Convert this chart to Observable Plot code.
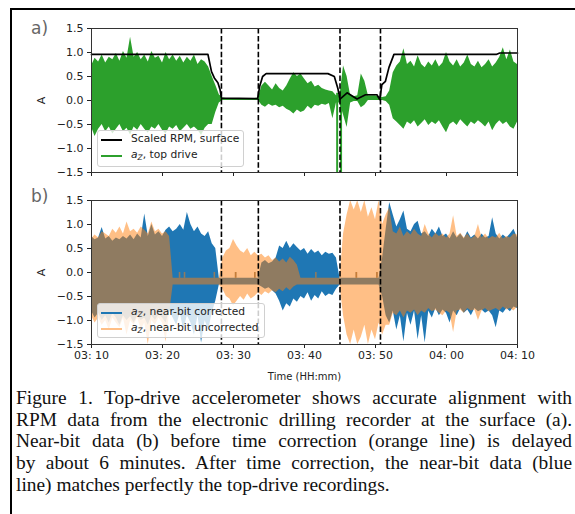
<!DOCTYPE html>
<html>
<head>
<meta charset="utf-8">
<script src="https://cdn.jsdelivr.net/npm/d3@7"></script>
<script src="https://cdn.jsdelivr.net/npm/@observablehq/plot@0.6"></script>
<style>
  html, body { margin: 0; padding: 0; background: #fff; overflow: hidden; }
  #fig { position: relative; width: 575px; height: 514px; overflow: hidden; background: #fff; }
  .abs { position: absolute; }
  .panel { position: absolute; left: 0; }
  .tag { position: absolute; font-family: "DejaVu Sans", sans-serif; font-size: 17px; color: #666; line-height: 1; }
  .leg { position: absolute; background: rgba(255,255,255,0.8); border: 1px solid #d0d0d0; border-radius: 3px; box-sizing: border-box; }
  .row { position: absolute; left: 0; width: 100%; height: 0; }
  .sw { position: absolute; left: 3px; width: 21px; height: 2px; top: -1px; }
  .lt { position: absolute; left: 33px; top: 0; transform: translateY(-52%); white-space: nowrap;
        font-family: "DejaVu Sans", sans-serif; font-size: 10.7px; color: #222; line-height: 1; }
  .lt sub { font-size: 7.5px; vertical-align: -2px; }
  #cap { position: absolute; left: 16px; top: 387px; width: 556px;
         font-family: "Liberation Serif", "Times New Roman", serif; font-size: 19.4px; line-height: 21.7px; color: #111; }
  #cap .j { text-align: justify; text-align-last: justify; }
</style>
</head>
<body>
<div id="fig">
  <div class="abs" style="left:10px; top:8px; right:0; height:2px; background:#000;"></div>
  <div class="abs" style="left:10px; top:8px; bottom:0; width:2px; background:#000;"></div>
  <div id="pa" class="panel" style="top:0;"></div>
  <div id="pb" class="panel" style="top:180px;"></div>
  <div class="tag" style="left:31px; top:20px;">a)</div>
  <div class="tag" style="left:31px; top:188px;">b)</div>

  <div class="leg" style="left:97px; top:130px; width:147px; height:37px;">
    <div class="row" style="top:9px;"><span class="sw" style="background:#000;"></span><span class="lt">Scaled RPM, surface</span></div>
    <div class="row" style="top:25px;"><span class="sw" style="background:#2ca02c;"></span><span class="lt"><i>a</i><sub><i>Z</i></sub>, top drive</span></div>
  </div>
  <div class="leg" style="left:97px; top:303px; width:168px; height:35px;">
    <div class="row" style="top:9px;"><span class="sw" style="background:#1f77b4;"></span><span class="lt"><i>a</i><sub><i>Z</i></sub>, near-bit corrected</span></div>
    <div class="row" style="top:25px;"><span class="sw" style="background:#ffbf86;"></span><span class="lt"><i>a</i><sub><i>Z</i></sub>, near-bit uncorrected</span></div>
  </div>

  <div id="cap">
    <div class="j">Figure 1. Top-drive accelerometer shows accurate alignment with</div>
    <div class="j">RPM data from the electronic drilling recorder at the surface (a).</div>
    <div class="j">Near-bit data (b) before time correction (orange line) is delayed</div>
    <div class="j">by about 6 minutes. After time correction, the near-bit data (blue</div>
    <div>line) matches perfectly the top-drive recordings.</div>
  </div>
</div>
<script>
// ---------- data (minutes after 03:10, sampled every 0.5 min: 121 samples) ----------
const xTickMinutes = [0, 10, 20, 30, 40, 50, 60];
const yTicks = [-1.5, -1.0, -0.5, 0.0, 0.5, 1.0, 1.5];
const markerMinutes = [18.3, 23.5, 35.0, 40.7];   // dashed vertical lines

// panel a: top-drive a_Z envelope (upper / lower)
const greenHi = [
  0.72, 0.88, 0.80, 0.95, 0.78, 0.90, 0.85, 0.98, 0.82, 1.02,
  0.88, 1.32, 0.90, 1.00, 0.85, 0.95, 0.80, 1.02, 0.88, 0.92,
  0.78, 1.00, 0.85, 0.95, 0.82, 0.92, 0.78, 0.90, 0.82, 0.95,
  0.75, 0.85, 0.80, 0.70,
  0.50, 0.32, 0.12, 0.05,
  0.04, 0.04, 0.04, 0.04, 0.04, 0.04, 0.04, 0.04, 0.04, 0.05,
  0.30, 0.38, 0.30, 0.22, 0.35, 0.25, 0.20, 0.30, 0.45, 0.58,
  0.50, 0.55, 0.45, 0.35, 0.40, 0.28, 0.32, 0.25, 0.22, 0.20, 0.18,
  0.10, 0.10, 0.72, 0.50, 0.10, 0.08, 0.10, 0.55, 0.40, 0.10,
  0.10, 0.10, 0.08, 0.06, 0.08, 0.20,
  0.58, 0.72, 0.80, 1.08, 0.75, 0.82, 0.70, 0.93, 0.75, 0.68,
  0.80, 0.72, 0.85, 0.70, 0.78, 1.00, 0.80, 0.72, 0.85, 0.70,
  0.78, 0.95, 0.75, 0.70, 0.82, 0.68, 0.75, 0.85, 0.70, 0.78,
  0.90, 1.10, 0.85, 1.05, 0.80, 0.75
];
const greenLo = [
  -0.55, -0.75, -0.60, -0.50, -0.65, -0.55, -0.70, -0.60, -0.50, -0.65,
  -0.58, -0.72, -0.55, -0.62, -0.50, -0.60, -0.68, -0.55, -0.60, -0.50,
  -0.62, -0.70, -0.55, -0.60, -0.52, -0.65, -0.58, -0.50, -0.60, -0.55,
  -0.62, -0.73, -0.58, -0.50,
  -0.50, -0.25, -0.05, 0.00,
  0.00, 0.00, 0.00, 0.00, 0.00, 0.00, 0.00, 0.00, 0.00, 0.00,
  -0.10, -0.14, -0.08, -0.12, -0.10, -0.15, -0.12, -0.18, -0.22, -0.28,
  -0.20, -0.25, -0.22, -0.12, -0.18, -0.10, -0.12, -0.08, -0.10, -0.06, -0.38,
  -0.05, -0.05, -0.30, -0.56, -0.05, -0.02, -0.02, -0.15, -0.10, 0.00,
  0.00, 0.00, 0.00, 0.00, -0.02, -0.10,
  -0.38, -0.45, -0.52, -0.60, -0.45, -0.50, -0.42, -0.55, -0.48, -0.40,
  -0.52, -0.45, -0.50, -0.42, -0.55, -0.67, -0.50, -0.45, -0.52, -0.40,
  -0.48, -0.55, -0.45, -0.50, -0.42, -0.48, -0.55, -0.45, -0.63, -0.50,
  -0.42, -0.50, -0.45, -0.55, -0.60, -0.45
];
// isolated green spikes
const spikeMinutes = [34.6, 35.15];
const spikeLo = [-1.5, -1.5];
const spikeHi = [0.15, 0.05];

// scaled surface RPM
const rpmMinutes = [0, 16.4, 16.9, 17.3, 17.8, 18.1, 18.3, 23.4, 23.7, 24.1, 24.6, 33.3, 34.2, 34.7, 35.0, 36.0, 37.4, 38.6, 40.2, 40.6, 40.9, 41.4, 41.9, 42.6, 57.0, 57.5, 60];
const rpmValues  = [0.96, 0.96, 0.60, 0.47, 0.37, 0.23, 0.05, 0.04, 0.30, 0.50, 0.56, 0.56, 0.50, 0.25, 0.03, 0.16, 0.03, 0.12, 0.12, 0.02, 0.33, 0.40, 0.69, 0.96, 0.96, 0.99, 0.99];

// panel b: near-bit corrected (blue) envelope
const blueHi = [
  0.75, 0.68, 0.72, 0.94, 0.70, 0.75, 0.65, 0.72, 0.68, 0.75,
  0.70, 0.78, 0.68, 0.80, 0.72, 1.22, 0.75, 1.00, 0.78, 0.85,
  0.75, 0.88, 0.95, 0.85, 0.90, 1.00, 0.88, 1.25, 1.00, 0.85,
  0.95, 0.80, 0.75, 0.85, 0.60, 0.50,
  -0.12, -0.12, -0.12, -0.12, -0.12, -0.12, -0.12, -0.12, -0.12, -0.12, -0.12, -0.12,
  0.20, 0.25, 0.18, 0.22, 0.30, 0.55, 0.50, 0.65, 0.50, 0.60,
  0.52, 0.45, 0.50, 0.38, 0.48, 0.40, 0.45, 0.35, 0.42, 0.38, 0.40, 0.30,
  -0.12, -0.12, -0.12, -0.12, -0.12, -0.12, -0.12, -0.12, -0.12, -0.12, -0.12, -0.12,
  0.30, 0.90,
  1.46, 1.20, 0.95, 1.10, 1.28, 0.90, 0.85, 1.00, 1.07, 0.80,
  0.85, 0.75, 0.90, 0.80, 0.95, 0.75, 0.80, 0.70, 0.85, 0.72,
  0.80, 0.70, 0.85, 0.72, 0.78, 0.70, 0.80, 0.72, 0.75, 1.14,
  0.80, 0.70, 0.78, 0.72, 0.80, 0.90, 0.72
];
const blueLo = [
  -0.80, -0.95, -0.85, -1.00, -0.90, -1.05, -0.85, -0.95, -1.10, -0.90,
  -1.00, -0.92, -1.05, -0.90, -1.00, -0.95, -1.10, -0.90, -1.00, -0.88,
  -0.95, -1.05, -0.80, -0.95, -1.10, -0.85, -1.20, -0.90, -1.05, -1.30,
  -0.90, -1.47, -1.00, -1.20, -0.85, -0.60,
  -0.26, -0.26, -0.26, -0.26, -0.26, -0.26, -0.26, -0.26, -0.26, -0.26, -0.26, -0.26,
  -0.30, -0.35, -0.32, -0.38, -0.45, -0.60, -0.80, -0.65, -0.72, -0.55,
  -0.62, -0.50, -0.55, -0.42, -0.60, -0.48, -0.55, -0.40, -0.50, -0.45, -0.48, -0.35,
  -0.26, -0.26, -0.26, -0.26, -0.26, -0.26, -0.26, -0.26, -0.26, -0.26, -0.26, -0.26,
  -0.50, -0.90,
  -1.05, -0.80, -1.20, -0.90, -1.45, -0.85, -1.10, -0.80, -1.40, -0.90,
  -1.47, -0.80, -0.95, -0.75, -0.90, -0.78, -0.85, -1.05, -0.80, -0.90,
  -0.75, -0.85, -0.78, -0.90, -0.75, -0.82, -0.78, -0.85, -0.80, -0.90,
  -1.15, -0.80, -0.85, -0.75, -0.82, -0.72, -0.75
];
// panel b: near-bit uncorrected (orange) envelope
const orangeHi = [
  0.70, 0.78, 0.72, 0.85, 0.80, 0.75, 0.90, 0.82, 0.95, 0.80,
  1.05, 0.85, 0.90, 0.82, 0.95, 0.88, 0.80, 1.05, 0.85, 0.90,
  0.80, 0.85, 0.75,
  -0.12, -0.12, -0.12, -0.12, -0.12, -0.12, -0.12, -0.12, -0.12, -0.12, -0.12, -0.12, -0.12, -0.12,
  0.30, 0.45, 0.50, 0.69, 0.55, 0.45, 0.40, 0.50, 0.35, 0.42,
  0.35, 0.38, 0.30, 0.35, 0.25, 0.30, 0.22, 0.28, 0.20, 0.32,
  0.25, 0.15,
  -0.12, -0.12, -0.12, -0.12, -0.12, -0.12, -0.12, -0.12, -0.12, -0.12, -0.12, -0.12,
  0.80, 1.20, 1.50, 1.30, 1.50, 1.25, 1.50, 1.15, 1.35, 1.10, 1.50, 1.00, 1.20,
  1.35, 0.85, 0.80, 0.95, 0.75, 0.85, 0.78, 0.90, 0.80, 0.75,
  1.00, 0.80, 0.72, 0.82, 0.75, 0.80, 0.72, 0.80, 1.18, 0.75,
  0.82, 0.72, 0.80, 0.70, 0.75, 1.00, 0.72, 0.80, 0.70, 0.75,
  0.72, 0.82, 0.70, 0.75, 0.72, 0.80, 0.78
];
const orangeLo = [
  -0.90, -1.05, -0.95, -1.10, -1.00, -1.20, -0.95, -1.05, -1.15, -0.95,
  -1.30, -1.00, -1.10, -0.95, -1.20, -1.05, -1.50, -1.00, -1.10, -0.95,
  -1.05, -1.45, -0.85,
  -0.26, -0.26, -0.26, -0.26, -0.26, -0.26, -0.26, -0.26, -0.26, -0.26, -0.26, -0.26, -0.26, -0.26,
  -0.35, -0.50, -0.55, -0.70, -0.60, -0.50, -0.58, -0.45, -0.55, -0.50,
  -0.42, -0.48, -0.40, -0.45, -0.38, -0.42, -0.35, -0.40, -0.32, -0.38,
  -0.30, -0.26,
  -0.26, -0.26, -0.26, -0.26, -0.26, -0.26, -0.26, -0.26, -0.26, -0.26, -0.26, -0.26,
  -0.90, -1.30, -1.50, -1.20, -1.50, -1.35, -1.10, -1.50, -1.20, -1.40, -1.05, -1.30, -1.10,
  -1.10, -0.85, -0.90, -0.80, -0.95, -0.80, -0.85, -0.78, -0.90, -0.80,
  -0.85, -0.75, -0.82, -0.78, -0.85, -0.90, -0.80, -0.85, -1.25, -0.80,
  -0.78, -0.85, -0.75, -0.80, -0.78, -1.00, -0.80, -0.75, -0.82, -0.78,
  -0.75, -0.80, -0.72, -0.78, -0.75, -0.80, -0.72
];
// small steps on the quiet near-bit trace
const bumpMinutes = [12.4, 13.1, 17.3, 20.3, 23.0, 31.6, 37.3, 40.2];
const bumpLo = -0.12, bumpHi = 0.0;

// ---------- build ----------
const base = Date.UTC(2021, 0, 1, 3, 10);
const toDate = m => new Date(base + m * 60000);
const sampleMinutes = d3.range(121).map(i => i * 0.5);

const green = sampleMinutes.map((m, i) => ({time: toDate(m), lo: greenLo[i], hi: greenHi[i]}));
const blue = sampleMinutes.map((m, i) => ({time: toDate(m), lo: blueLo[i], hi: blueHi[i]}));
const orange = sampleMinutes.map((m, i) => ({time: toDate(m), lo: orangeLo[i], hi: orangeHi[i]}));
const spikes = spikeMinutes.map((m, i) => ({time: toDate(m), lo: spikeLo[i], hi: spikeHi[i]}));
const rpm = rpmMinutes.map((m, i) => ({time: toDate(m), v: rpmValues[i]}));
const bumps = bumpMinutes.map(m => ({time: toDate(m), lo: bumpLo, hi: bumpHi}));
const markers = markerMinutes.map(toDate);

const yFmt = d => d.toFixed(1).replace("-", "\u2212");
const common = {
  width: 575, marginLeft: 91, marginRight: 58,
  style: {fontFamily: "DejaVu Sans, sans-serif", fontSize: "11px", color: "#222", background: "transparent", overflow: "visible"},
  y: {domain: [-1.5, 1.5], ticks: yTicks, tickFormat: yFmt, tickSize: 4, tickPadding: 4,
      label: "A", labelAnchor: "center", labelOffset: 54, labelArrow: false}
};
const dash = {stroke: "#000", strokeWidth: 1.6, strokeDasharray: "5.5,2.4"};

const pa = Plot.plot({
  ...common, height: 180, marginTop: 28, marginBottom: 8,
  x: {type: "utc", domain: [toDate(0), toDate(60)], ticks: xTickMinutes.map(toDate), tickFormat: () => "", tickSize: 4, label: null},
  marks: [
    Plot.areaY(green, {x: "time", y1: "lo", y2: "hi", fill: "#2ca02c", clip: true}),
    Plot.ruleX(spikes, {x: "time", y1: "lo", y2: "hi", stroke: "#2ca02c", strokeWidth: 2, clip: true}),
    Plot.line(rpm, {x: "time", y: "v", stroke: "#000", strokeWidth: 1.7}),
    Plot.ruleX(markers, dash),
    Plot.frame({stroke: "#333", strokeWidth: 1})
  ]
});
document.getElementById("pa").appendChild(pa);

const pb = Plot.plot({
  ...common, height: 200, marginTop: 20, marginBottom: 36,
  x: {type: "utc", domain: [toDate(0), toDate(60)], ticks: xTickMinutes.map(toDate), tickFormat: d3.utcFormat("%H: %M"),
      tickSize: 4, tickPadding: 3, label: "Time (HH:mm)", labelAnchor: "center", labelOffset: 35, labelArrow: false},
  marks: [
    Plot.areaY(blue, {x: "time", y1: "lo", y2: "hi", fill: "#1f77b4", clip: true}),
    Plot.ruleX(bumps, {x: "time", y1: "lo", y2: "hi", stroke: "#1f77b4", strokeWidth: 1.6}),
    Plot.areaY(orange, {x: "time", y1: "lo", y2: "hi", fill: "#ff7f0e", fillOpacity: 0.5, clip: true}),
    Plot.ruleX(bumps, {x: "time", y1: "lo", y2: "hi", stroke: "#ff7f0e", strokeOpacity: 0.5, strokeWidth: 1.6}),
    Plot.ruleX(markers, dash),
    Plot.frame({stroke: "#333", strokeWidth: 1})
  ]
});
document.getElementById("pb").appendChild(pb);

// strip any label arrows the library may add, and shrink the time-axis title
for (const svg of [pa, pb]) {
  svg.querySelectorAll("text").forEach(t => {
    const s = t.textContent;
    if (/[\u2191\u2192]/.test(s)) t.textContent = s.replace(/\s*[\u2191\u2192]\s*/g, "");
    if (t.textContent === "Time (HH:mm)") t.setAttribute("font-size", "10px");
  });
}
</script>
</body>
</html>
